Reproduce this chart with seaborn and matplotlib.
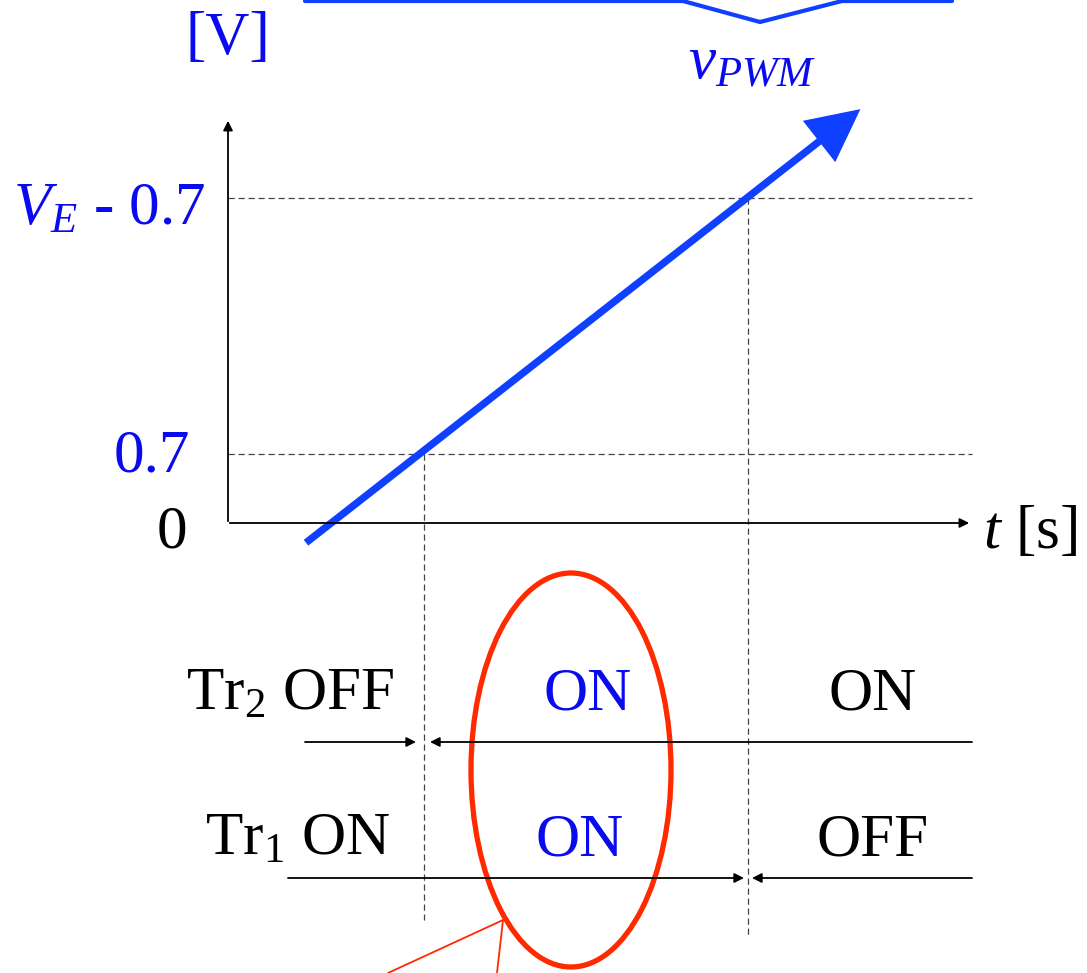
import numpy as np
import pandas as pd
import matplotlib
matplotlib.use("Agg")
import matplotlib.pyplot as plt
from matplotlib.patches import Ellipse
import seaborn as sns

# ramp signal (t in arbitrary units, v in volts)
t_ramp = [0.78, 6.05]
v_ramp = [-0.20, 3.98]
V_LOW = 0.7          # 0.7 level
V_HIGH = 3.3         # V_E - 0.7 level
T_ON = 1.96          # ramp crosses 0.7
T_OFF = 5.20         # ramp crosses V_E - 0.7

tr2_labels = ["OFF", "ON", "ON"]
tr1_labels = ["ON", "ON", "OFF"]

BLUE = "#1040ff"
TXT_BLUE = "#0a0aee"
RED = "#ff2a00"
GREY = "#444444"

sns.set_theme(style="white")
plt.rcParams['font.family'] = ['Liberation Serif', 'DejaVu Serif']
plt.rcParams['mathtext.fontset'] = 'custom'
plt.rcParams['mathtext.rm'] = 'Liberation Serif'
plt.rcParams['mathtext.it'] = 'Liberation Serif:italic'

W, H = 1087, 973
X0, Y0, SX, SY = 228, 523, 100.0, 98.6


def P(x, y):
    # pixel -> data coordinates
    return (x - X0) / SX, (Y0 - y) / SY


fig = plt.figure(figsize=(W / 100, H / 100), dpi=100)
ax = fig.add_axes([0, 0, 1, 1])
ax.set_xlim(P(0, 0)[0], P(W, 0)[0])
ax.set_ylim(P(0, H)[1], P(0, 0)[1])
ax.axis("off")

FS = 44

# axes with arrows
ax.annotate("", xy=P(228, 118), xytext=P(228, 524),
            arrowprops=dict(arrowstyle="-|>", color="black", lw=1.3, mutation_scale=14))
ax.annotate("", xy=P(972, 523), xytext=P(227, 523),
            arrowprops=dict(arrowstyle="-|>", color="black", lw=1.3, mutation_scale=14))

# dashed guides
dash = dict(color=GREY, lw=0.9, ls=(0, (5, 3)))
ax.plot([0, P(972, 0)[0]], [V_LOW, V_LOW], **dash)
ax.plot([0, P(972, 0)[0]], [V_HIGH, V_HIGH], **dash)
ax.plot([T_ON, T_ON], [V_LOW, P(0, 920)[1]], **dash)
ax.plot([T_OFF, T_OFF], [V_HIGH, P(0, 938)[1]], **dash)

# ramp
ramp = pd.DataFrame({"t": t_ramp, "v": v_ramp})
sns.lineplot(data=ramp, x="t", y="v", ax=ax, color=BLUE, lw=5.3, solid_capstyle="butt")
d = np.array([t_ramp[1] - t_ramp[0], v_ramp[1] - v_ramp[0]])
d = d / np.hypot(*d)
tip = (t_ramp[1] + 0.35 * d[0], v_ramp[1] + 0.35 * d[1])
ax.annotate("", xy=tip, xytext=(t_ramp[1] - 0.05 * d[0], v_ramp[1] - 0.05 * d[1]),
            arrowprops=dict(arrowstyle="-|>,head_length=0.9,head_width=0.45",
                            color=BLUE, lw=0, mutation_scale=42, shrinkA=0, shrinkB=0))

# top: PWM carrier fragment
xs = [P(305, 0)[0], P(683, 0)[0], P(760, 22)[0], P(842, 0)[0], P(952, 0)[0]]
ys = [P(0, 1)[1], P(0, 1)[1], P(0, 22)[1], P(0, 1)[1], P(0, 1)[1]]
ax.plot(xs, ys, color=BLUE, lw=3, solid_joinstyle="miter")

# labels
ax.text(*P(228, 54), "[V]", color=TXT_BLUE, fontsize=FS, ha="center", va="baseline")
ax.text(*P(688, 78), r"$v_{PWM}$", color=TXT_BLUE, fontsize=FS, ha="left", va="baseline")
ax.text(*P(205, 225), r"$V_E$ - 0.7", color=TXT_BLUE, fontsize=FS, ha="right", va="baseline")
ax.text(*P(190, 472), "0.7", color=TXT_BLUE, fontsize=FS, ha="right", va="baseline")
ax.text(*P(172, 548), "0", color="black", fontsize=FS, ha="center", va="baseline")
ax.text(*P(983, 548), r"$t$ [s]", color="black", fontsize=FS, ha="left", va="baseline")

# Tr2 row
ax.text(*P(186, 710), r"Tr$_2$ " + tr2_labels[0], color="black", fontsize=FS, ha="left", va="baseline")
ax.text(*P(588, 710), tr2_labels[1], color=TXT_BLUE, fontsize=FS, ha="center", va="baseline")
ax.text(*P(873, 710), tr2_labels[2], color="black", fontsize=FS, ha="center", va="baseline")
arr = dict(arrowstyle="-|>", color="black", lw=1.3, mutation_scale=14, shrinkA=0, shrinkB=0)
ax.annotate("", xy=P(416, 742), xytext=P(305, 742), arrowprops=arr)
ax.annotate("", xy=P(430, 742), xytext=P(972, 742), arrowprops=arr)

# Tr1 row
ax.text(*P(205, 855), r"Tr$_1$ " + tr1_labels[0], color="black", fontsize=FS, ha="left", va="baseline")
ax.text(*P(580, 855), tr1_labels[1], color=TXT_BLUE, fontsize=FS, ha="center", va="baseline")
ax.text(*P(873, 855), tr1_labels[2], color="black", fontsize=FS, ha="center", va="baseline")
ax.annotate("", xy=P(744, 878), xytext=P(288, 878), arrowprops=arr)
ax.annotate("", xy=P(752, 878), xytext=P(972, 878), arrowprops=arr)

# red ellipse and pointer lines
c = P(571, 770)
ax.add_patch(Ellipse(c, 200 / SX, 394 / SY, fill=False, ec=RED, lw=3.8))
ax.plot([P(503, 920)[0], P(388, 973)[0]], [P(503, 920)[1], P(388, 973)[1]], color=RED, lw=1.3)
ax.plot([P(503, 920)[0], P(497, 973)[0]], [P(503, 920)[1], P(497, 973)[1]], color=RED, lw=1.3)

fig.savefig("out.png", dpi=100)
